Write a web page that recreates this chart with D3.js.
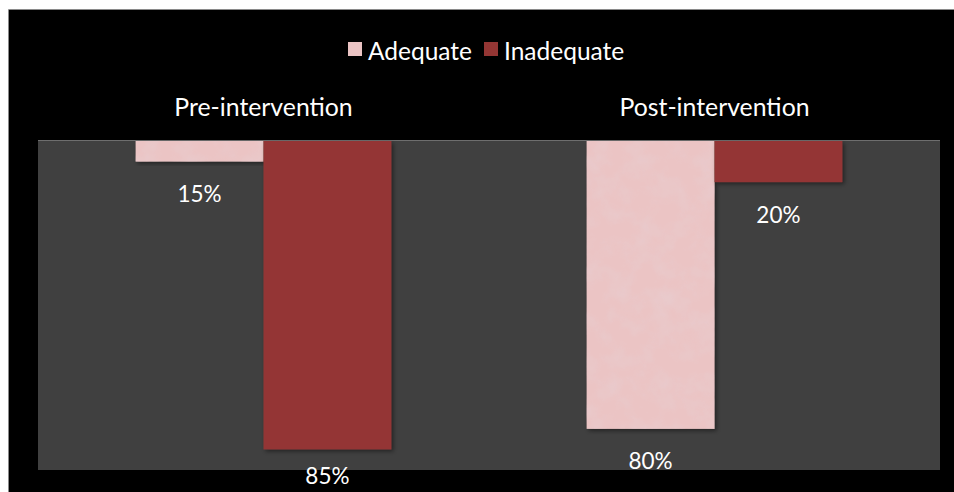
<!DOCTYPE html>
<html>
<head>
<meta charset="utf-8">
<script src="https://cdn.jsdelivr.net/npm/d3@7"></script>
<style>
  html, body { margin: 0; padding: 0; background: #ffffff; }
  svg { display: block; }
  text { font-family: Lato, "Open Sans", sans-serif; fill: #ffffff; }
</style>
</head>
<body>
<div id="chart"></div>
<script>
// Share of respondents, by phase and rating (percent)
const categories = ["Pre-intervention", "Post-intervention"];
const seriesNames = ["Adequate", "Inadequate"];
const adequate = [15, 80];
const inadequate = [85, 20];
const valueDomain = [10, 90];   // value axis runs top-down, no tick labels shown

const W = 954, H = 492;
const frame = { x: 9, y: 10 };
const plot = { left: 38, right: 940, top: 141, bottom: 470 };

const svg = d3.select("#chart").append("svg")
  .attr("width", W).attr("height", H);

const defs = svg.append("defs");

// mottled paper texture for the light bars
const mottle = defs.append("filter").attr("id", "mottle")
  .attr("x", 0).attr("y", 0).attr("width", 1).attr("height", 1);
mottle.append("feTurbulence").attr("type", "fractalNoise")
  .attr("baseFrequency", 0.045).attr("numOctaves", 4).attr("seed", 7).attr("result", "n");
mottle.append("feColorMatrix").attr("in", "n").attr("type", "matrix")
  .attr("values", "0 0 0 0 0.80  0 0 0 0 0.62  0 0 0 0 0.64  1.1 0 0 0 -0.42")
  .attr("result", "tint");
mottle.append("feComposite").attr("in", "tint").attr("in2", "SourceGraphic")
  .attr("operator", "in").attr("result", "spots");
const mm = mottle.append("feMerge");
mm.append("feMergeNode").attr("in", "SourceGraphic");
mm.append("feMergeNode").attr("in", "spots");

// soft shadow under each bar
const shadow = defs.append("filter").attr("id", "shadow")
  .attr("x", "-10%").attr("y", "-10%").attr("width", "130%").attr("height", "130%");
shadow.append("feDropShadow").attr("dx", 2).attr("dy", 2)
  .attr("stdDeviation", 2).attr("flood-color", "#000").attr("flood-opacity", 0.45);

// black backdrop with a thin grey edge on the left and top
svg.append("rect").attr("x", frame.x).attr("y", frame.y)
  .attr("width", W - frame.x).attr("height", H - frame.y)
  .attr("fill", "#000");
svg.append("path")
  .attr("d", `M${frame.x - 0.5},${H} V${frame.y - 0.5} H${W}`)
  .attr("fill", "none").attr("stroke", "#8a8a8a").attr("stroke-width", 1);

// plot area
svg.append("rect").attr("x", plot.left).attr("y", plot.top)
  .attr("width", plot.right - plot.left).attr("height", plot.bottom - plot.top)
  .attr("fill", "#404040");
svg.append("line").attr("x1", plot.left).attr("x2", plot.right)
  .attr("y1", plot.top - 0.5).attr("y2", plot.top - 0.5)
  .attr("stroke", "#6e6e6e").attr("stroke-width", 1);

const pad = 0.433;
const x0 = d3.scaleBand().domain(categories)
  .range([plot.left, plot.right]).paddingInner(pad).paddingOuter(pad / 2);
const x1 = d3.scaleBand().domain(seriesNames).range([0, x0.bandwidth()]).padding(0);
const y = d3.scaleLinear().domain(valueDomain).range([plot.top, plot.bottom]);
const color = d3.scaleOrdinal().domain(seriesNames).range(["#ebc4c4", "#943634"]);

const rows = categories.map((c, i) => ({
  category: c,
  values: [
    { key: "Adequate", value: adequate[i] },
    { key: "Inadequate", value: inadequate[i] }
  ]
}));

const groups = svg.append("g").selectAll("g").data(rows).join("g")
  .attr("transform", d => `translate(${x0(d.category)},0)`);

groups.selectAll("g.bar").data(d => d.values).join("g")
  .attr("class", "bar")
  .attr("filter", "url(#shadow)")
  .append("rect")
  .attr("x", d => x1(d.key))
  .attr("y", plot.top)
  .attr("width", x1.bandwidth())
  .attr("height", d => y(d.value) - plot.top)
  .attr("fill", d => color(d.key))
  .attr("filter", d => d.key === "Adequate" ? "url(#mottle)" : null);

// value labels just past the end of each bar
groups.selectAll("text.value").data(d => d.values).join("text")
  .attr("class", "value")
  .attr("x", d => x1(d.key) + x1.bandwidth() / 2)
  .attr("y", d => Math.min(y(d.value) + 32, 475))
  .attr("text-anchor", "middle")
  .attr("dominant-baseline", "central")
  .attr("font-size", 22.5)
  .text(d => d.value + "%");

// category axis above the plot
const axis = svg.append("g")
  .attr("transform", `translate(0,${plot.top - 25})`)
  .call(d3.axisTop(x0).tickSize(0).tickPadding(0));
axis.select(".domain").remove();
axis.selectAll("text")
  .attr("font-size", 24.8)
  .style("font-family", "Lato, 'Open Sans', sans-serif")
  .attr("fill", "#ffffff");

// legend
const legend = svg.append("g").attr("transform", "translate(348,0)");
const legendItems = [
  { key: "Adequate", x: 0 },
  { key: "Inadequate", x: 136 }
];
const li = legend.selectAll("g").data(legendItems).join("g")
  .attr("transform", d => `translate(${d.x},0)`);
li.append("rect").attr("x", 0).attr("y", 42).attr("width", 14).attr("height", 14)
  .attr("fill", d => color(d.key));
li.append("text").attr("x", 20).attr("y", 50)
  .attr("dominant-baseline", "central")
  .attr("font-size", 24.5)
  .text(d => d.key);
</script>
</body>
</html>
